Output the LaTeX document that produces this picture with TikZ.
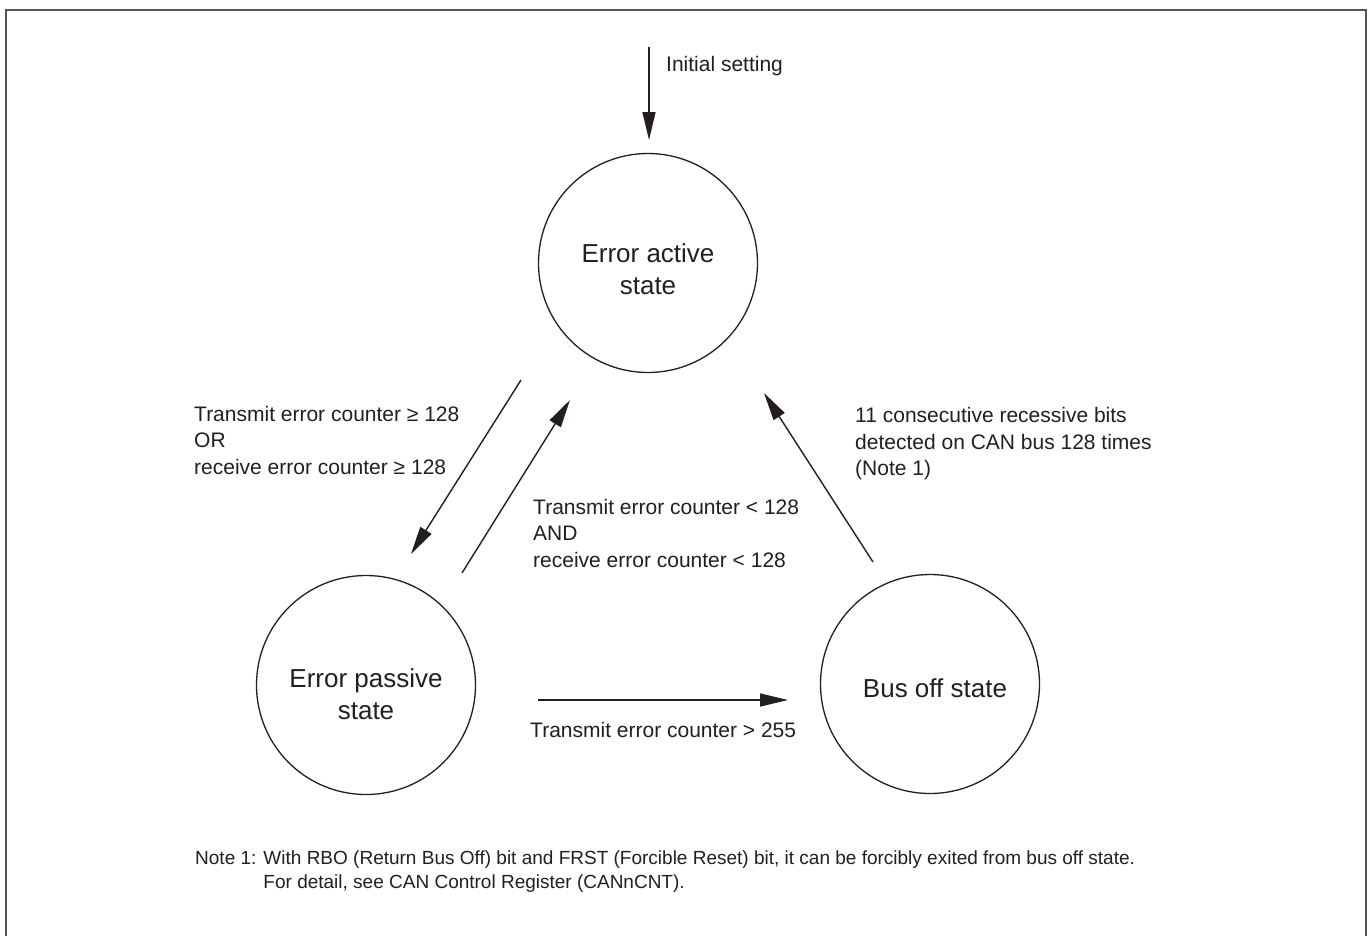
\documentclass[tikz,border=0pt]{standalone}
\usepackage{fontspec}
\setmainfont{Liberation Sans}
\usetikzlibrary{arrows.meta}
\definecolor{ink}{RGB}{35,31,32}
\definecolor{framec}{RGB}{85,85,85}
\begin{document}
\begin{tikzpicture}[x=1pt,y=-1pt,
  state/.style={draw=ink, line width=1.3pt, circle, minimum size=219pt, inner sep=0pt},
  stext/.style={align=center, inner sep=0pt, font=\fontsize{26}{32}\selectfont, text=ink},
  lbl/.style={anchor=west, align=left, inner sep=0pt, font=\fontsize{21}{26.5}\selectfont, text=ink},
  conn/.style={draw=ink, line width=1.4pt, -{Triangle[length=28pt,width=13pt]}}]
\useasboundingbox (0,0) rectangle (1370,935);
\fill[white] (0,0) rectangle (1370,935);
% frame
\draw[framec, line width=2pt] (6,945) -- (6,10) -- (1366,10) -- (1366,945);
% states
\node[state] (act) at (648,263) {};
\node[state] (pas) at (366,685) {};
\node[state] (bus) at (930,684) {};
\node[stext] (tact) at (648,269) {Error active\\state};
\node[stext] (tpas) at (366,694) {Error passive\\state};
\node[stext] (tbus) at (935,688) {Bus off state};
% connector end points
\coordinate (i0) at (649,47);
\coordinate (i1) at (649,140);
\coordinate (a0) at (521,380);
\coordinate (a1) at (411,554);
\coordinate (b0) at (462,573);
\coordinate (b1) at (570,400);
\coordinate (c0) at (873,562);
\coordinate (c1) at (764,393);
\coordinate (d0) at (538,700);
\coordinate (d1) at (788,700);
% connectors
\draw[conn] (i0) -- (i1);
\draw[conn] (a0) -- (a1);
\draw[conn] (b0) -- (b1);
\draw[conn] (c0) -- (c1);
\draw[conn] (d0) -- (d1);
% labels
\node[lbl] (linit) at (666,66) {Initial setting};
\node[lbl] (lab1) at (194,440) {Transmit error counter ≥ 128\\OR\\receive error counter ≥ 128};
\node[lbl] (lab2) at (533,533) {Transmit error counter < 128\\AND\\receive error counter < 128};
\node[lbl] (lab3) at (855,444) {11 consecutive recessive bits\\detected on CAN bus 128 times\\(Note 1)};
\node[lbl] (lab4) at (530,730) {Transmit error counter > 255};
\node[anchor=north west, inner sep=0pt, text=ink, font=\fontsize{19}{23.5}\selectfont] (note) at (195,848)
  {\begin{tabular}{@{}l@{ }l@{}}Note 1: & With RBO (Return Bus Off) bit and FRST (Forcible Reset) bit, it can be forcibly exited from bus off state.\\
   & For detail, see CAN Control Register (CANnCNT).\end{tabular}};
\end{tikzpicture}
\end{document}
